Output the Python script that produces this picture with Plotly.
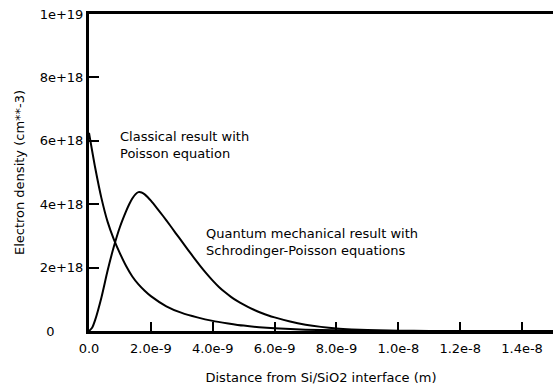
import plotly.graph_objects as go

# Distance from interface (m) and electron density (cm^-3)
x_classical = [0, 0.2e-9, 0.4e-9, 0.6e-9, 0.8e-9, 1.0e-9, 1.2e-9, 1.4e-9, 1.6e-9, 1.8e-9,
               2.0e-9, 2.5e-9, 3.0e-9, 3.5e-9, 4.0e-9, 4.5e-9, 5.0e-9, 5.5e-9, 6.0e-9,
               7.0e-9, 8.0e-9, 9.0e-9, 1.0e-8, 1.2e-8, 1.5e-8]
n_classical = [6.25e18, 5.15e18, 4.2e18, 3.45e18, 2.9e18, 2.45e18, 2.05e18, 1.72e18, 1.47e18, 1.27e18,
               1.1e18, 0.78e18, 0.57e18, 0.43e18, 0.32e18, 0.24e18, 0.17e18, 0.12e18, 0.085e18,
               0.04e18, 0.02e18, 0.008e18, 0.003e18, 0.0005e18, 0.0]

x_quantum = [0, 0.1e-9, 0.2e-9, 0.4e-9, 0.6e-9, 0.8e-9, 1.0e-9, 1.2e-9, 1.3e-9, 1.4e-9, 1.5e-9,
             1.6e-9, 1.7e-9, 1.8e-9, 1.9e-9,
             2.0e-9, 2.2e-9, 2.4e-9, 2.6e-9, 2.8e-9, 3.0e-9, 3.2e-9, 3.4e-9, 3.6e-9, 3.8e-9,
             4.0e-9, 4.2e-9, 4.4e-9, 4.6e-9, 4.8e-9, 5.0e-9, 5.2e-9, 5.4e-9, 5.6e-9, 5.8e-9,
             6.0e-9, 6.5e-9, 7.0e-9, 7.5e-9, 8.0e-9, 8.5e-9, 9.0e-9, 1.0e-8, 1.1e-8, 1.2e-8, 1.5e-8]
n_quantum = [0.0, 0.1e18, 0.35e18, 1.05e18, 1.9e18, 2.65e18, 3.28e18, 3.78e18, 4.0e18, 4.18e18, 4.31e18,
             4.38e18, 4.37e18, 4.31e18, 4.22e18,
             4.11e18, 3.87e18, 3.62e18, 3.36e18, 3.09e18, 2.83e18, 2.56e18, 2.3e18, 2.05e18, 1.81e18,
             1.59e18, 1.39e18, 1.22e18, 1.07e18, 0.94e18, 0.83e18, 0.73e18, 0.64e18, 0.56e18, 0.49e18,
             0.43e18, 0.3e18, 0.2e18, 0.13e18, 0.08e18, 0.05e18, 0.03e18, 0.01e18, 0.003e18, 0.0, 0.0]

x_tickvals = [0, 2e-9, 4e-9, 6e-9, 8e-9, 1.0e-8, 1.2e-8, 1.4e-8]
x_ticktext = ["0.0", "2.0e-9", "4.0e-9", "6.0e-9", "8.0e-9", "1.0e-8", "1.2e-8", "1.4e-8"]
y_tickvals = [0, 2e18, 4e18, 6e18, 8e18, 1e19]
y_ticktext = ["0" + "\u00a0" * 7, "2e+18", "4e+18", "6e+18", "8e+18", "1e+19"]

label_classical = "Classical result with<br>Poisson equation"
label_quantum = "Quantum mechanical result with<br>Schrodinger-Poisson equations"

FONT = "DejaVu Sans"

fig = go.Figure()
fig.add_trace(go.Scatter(x=x_classical, y=n_classical, mode="lines",
                         line=dict(color="black", width=2, shape="spline", smoothing=0.6),
                         showlegend=False, hoverinfo="skip"))
fig.add_trace(go.Scatter(x=x_quantum, y=n_quantum, mode="lines",
                         line=dict(color="black", width=2, shape="spline", smoothing=0.6),
                         showlegend=False, hoverinfo="skip"))
# invisible trace on the top axis so that the top frame line is drawn
fig.add_trace(go.Scatter(x=[0], y=[0], xaxis="x2", mode="markers",
                         marker=dict(opacity=0), showlegend=False, hoverinfo="skip"))

fig.add_annotation(x=0.94e-9, y=5.88e18, text=label_classical, showarrow=False,
                   xanchor="left", yanchor="middle", align="left",
                   font=dict(family=FONT, size=13, color="black"))
fig.add_annotation(x=3.71e-9, y=2.82e18, text=label_quantum, showarrow=False,
                   xanchor="left", yanchor="middle", align="left",
                   font=dict(family=FONT, size=13, color="black"))

fig.update_layout(
    width=553, height=388,
    margin=dict(l=89, r=0, t=14, b=57),
    paper_bgcolor="white", plot_bgcolor="white",
    font=dict(family=FONT, size=13, color="black"),
    xaxis=dict(range=[0, 1.5e-8], tickvals=x_tickvals, ticktext=x_ticktext,
               ticks="inside", ticklen=9, tickwidth=1.5, tickcolor="black",
               ticklabelstandoff=3,
               showline=True, linewidth=3, linecolor="black", mirror=False,
               showgrid=False, zeroline=False,
               title=dict(text="Distance from Si/SiO2 interface (m)", standoff=19,
                          font=dict(family=FONT, size=13, color="black"))),
    xaxis2=dict(range=[0, 1.5e-8], overlaying="x", side="top", matches="x",
                showline=True, linewidth=3, linecolor="black",
                showticklabels=False, ticks="", showgrid=False, zeroline=False),
    yaxis=dict(range=[0, 1e19], tickvals=y_tickvals, ticktext=y_ticktext,
               ticks="inside", ticklen=10, tickwidth=1.5, tickcolor="black",
               showline=True, linewidth=3, linecolor="black", mirror=False,
               showgrid=False, zeroline=False,
               title=dict(text="Electron density (cm**-3)", standoff=13,
                          font=dict(family=FONT, size=13, color="black"))),
)

fig.write_html("out.html")
